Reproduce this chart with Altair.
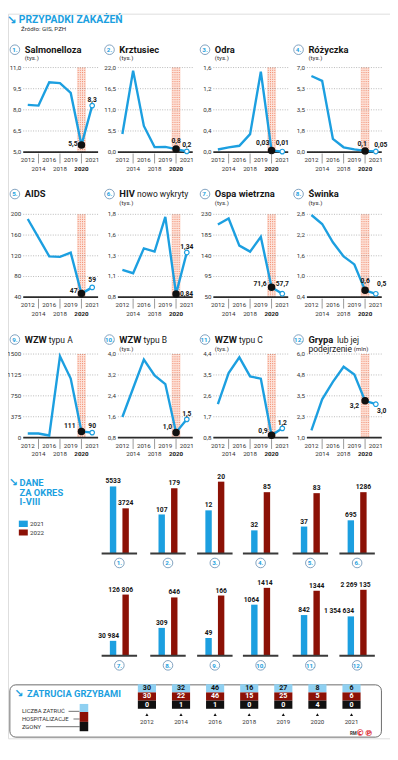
import altair as alt
import pandas as pd

# ---------------- data ----------------
years = ["2012", "2014", "2016", "2018", "2019", "2020", "2021"]

names = ["Salmonelloza", "Krztusiec", "Odra", "Różyczka", "AIDS", "HIV",
         "Ospa wietrzna", "Świnka", "WZW", "WZW", "WZW", "Grypa"]
name_extra = ["", "", "", "", "", "nowo wykryty", "", "", "typu A", "typu B",
              "typu C", "lub jej"]
unit_word = ["", "", "", "", "", "", "", "", "", "", "", "podejrzenie"]
units = ["(tys.)", "(tys.)", "(tys.)", "(tys.)", "", "(tys.)", "(tys.)",
         "(tys.)", "", "(tys.)", "(tys.)", "(mln)"]

salmonelloza = [8.35, 8.3, 9.95, 9.9, 9.2, 5.5, 8.3]
krztusiec = [4.7, 21.2, 6.8, 1.3, 1.35, 0.8, 0.2]
odra = [0.05, 0.09, 0.12, 0.34, 1.52, 0.03, 0.01]
rozyczka = [6.3, 5.9, 1.1, 0.4, 0.22, 0.1, 0.05]
aids = [191, 155, 119, 118, 126, 47, 59]
hiv = [1.13, 1.09, 1.39, 1.35, 1.77, 0.84, 1.34]
ospa = [208, 221, 162, 149, 181, 71.6, 57.7]
swinka = [2.78, 2.52, 1.99, 1.58, 1.35, 0.6, 0.5]
wzw_a = [74, 74, 38, 1460, 1060, 111, 90]
wzw_b = [1.59, 2.69, 3.79, 3.18, 2.85, 1.0, 1.5]
wzw_c = [2.24, 3.58, 4.26, 3.44, 3.34, 0.9, 1.2]
grypa = [1.44, 3.29, 4.34, 5.24, 4.78, 3.2, 3.0]
series = [salmonelloza, krztusiec, odra, rozyczka, aids, hiv, ospa, swinka,
          wzw_a, wzw_b, wzw_c, grypa]

value_labels = [("5,5", "8,3"), ("0,8", "0,2"), ("0,03", "0,01"), ("0,1", "0,05"),
                ("47", "59"), ("0,84", "1,34"), ("71,6", "57,7"), ("0,6", "0,5"),
                ("111", "90"), ("1,0", "1,5"), ("0,9", "1,2"), ("3,2", "3,0")]

y_ticks = [
    [5.0, 6.5, 8.0, 9.5, 11.0],
    [0.0, 5.5, 11.0, 16.5, 22.0],
    [0.0, 0.4, 0.8, 1.2, 1.6],
    [0.0, 1.75, 3.5, 5.25, 7.0],
    [40, 80, 120, 160, 200],
    [0.8, 1.05, 1.3, 1.55, 1.8],
    [50, 95, 140, 185, 230],
    [0.4, 1.0, 1.6, 2.2, 2.8],
    [0, 375, 750, 1125, 1500],
    [0.8, 1.6, 2.4, 3.2, 4.0],
    [0.8, 1.7, 2.6, 3.5, 4.4],
    [1.0, 2.25, 3.5, 4.75, 6.0],
]
y_tick_labels = [
    ["5,0", "6,5", "8,0", "9,5", "11,0"],
    ["0,0", "5,5", "11,0", "16,5", "22,0"],
    ["0,0", "0,4", "0,8", "1,2", "1,6"],
    ["0,0", "1,8", "3,5", "5,3", "7,0"],
    ["40", "80", "120", "160", "200"],
    ["0,8", "1,1", "1,3", "1,6", "1,8"],
    ["50", "95", "140", "185", "230"],
    ["0,4", "1,0", "1,6", "2,2", "2,8"],
    ["0", "375", "750", "1125", "1500"],
    ["0,8", "1,6", "2,4", "3,2", "4,0"],
    ["0,8", "1,7", "2,6", "3,5", "4,4"],
    ["1,0", "2,3", "3,5", "4,8", "6,0"],
]

bar_groups = ["1.", "2.", "3.", "4.", "5.", "6.", "7.", "8.", "9.", "10.", "11.", "12."]
bar_years = ["2021", "2022"]
cases_2021 = [5533, 107, 12, 32, 37, 695, 30984, 309, 49, 1064, 842, 1354634]
cases_2022 = [3724, 179, 20, 85, 83, 1286, 126806, 646, 166, 1414, 1344, 2269135]

mush_years = ["2012", "2014", "2016", "2018", "2019", "2020", "2021"]
mush_rows = ["LICZBA ZATRUĆ", "HOSPITALIZACJE", "ZGONY"]
poisonings = [30, 32, 46, 16, 27, 8, 6]
hospitalizations = [30, 22, 46, 15, 25, 5, 6]
deaths = [0, 1, 1, 0, 0, 4, 0]

# ---------------- layout / style ----------------
BLUE = "#1c9fe0"
RED = "#8c1106"
LIGHT_BLUE = "#8fd0f1"
INK = "#161616"
GREY = "#333333"
FONT = "Roboto"

W_ALL, H_ALL = 388, 736
LINE_X = [15.5, 111.6, 208.6, 303.6]
LW = 76
LINE_TOP = [54.7, 203.8, 345.7]
LINE_BOT = [140.6, 288.0, 430.6]
TITLE_Y = [36.6, 183.2, 331.0]
SUB_Y = [45.0, 192.0, 340.6]
X_MIN, X_MAX = -0.42, 6.55
BAND_HALF = 0.42
HATCH = [-0.3, -0.1, 0.1, 0.3]
EXTRA_DX = {5: 18, 8: 24.5, 9: 24.5, 10: 24.5, 11: 29}
VALUE_POS = [
    ((-4, -1, "right"), (0, -6, "center")),
    ((0, -8, "center"), (0, -6, "center")),
    ((-9, -8, "center"), (0, -9, "center")),
    ((-3, -7, "center"), (5, -7, "center")),
    ((-4, -3, "right"), (0, -7, "center")),
    ((4, 0, "left"), (0, -6, "center")),
    ((-5, -3, "right"), (0, -10, "center")),
    ((0, -9, "center"), (6, -10, "center")),
    ((-6, -5, "right"), (0, -7, "center")),
    ((-4, -5, "right"), (0, -5, "center")),
    ((-4, -4, "right"), (0, -5, "center")),
    ((-6, 5, "right"), (6, 7, "center")),
]

BAR_X = [95.1, 144.5, 192.1, 238.6, 289.1, 336.6]
BW = 36
BAR_BASE = [548.2, 652.2]
BH = 75.8
BAR_SCALE_MAX = [6165, 205, 20.8, 103.6, 102.8, 1567, 154545, 826, 205.5, 1553, 1542, 2565000]
BAR_LABEL_DX = {6: (-4.5, -5), 9: (-3, -2), 11: (-12, -8)}

BOX = (1.9, 681.7, 379.3, 734.8)
MX0, MX1 = 141.1, 348.9
CELL_HALF = 0.266
MY0, MROW = 681.1, 8.3

ONE = pd.DataFrame({"k": [0]})


def text_mark(s, x, y, size, weight="normal", color=INK, align="left", font=None):
    props = dict(text=s, fontSize=size, fontWeight=weight, color=color,
                 align=align, baseline="middle")
    if font:
        props["font"] = font
    return alt.Chart(ONE).mark_text(**props).encode(x=alt.value(x), y=alt.value(y))


def pl_int(n):
    return f"{n:,}".replace(",", " ") if n >= 10000 else str(n)


def line_panel(i):
    r, c = divmod(i, 4)
    x0, top, bot = LINE_X[c], LINE_TOP[r], LINE_BOT[r]
    lo, hi = y_ticks[i][0], y_ticks[i][-1]
    xs = alt.Scale(domain=[X_MIN, X_MAX], range=[x0, x0 + LW], nice=False, zero=False)
    ys = alt.Scale(domain=[lo, hi], range=[bot, top], nice=False, zero=False)

    def X(f):
        return alt.X(f, type="quantitative", scale=xs, axis=None)

    def Y(f):
        return alt.Y(f, type="quantitative", scale=ys, axis=None)

    labs = ["", "", "", "", "", value_labels[i][0], value_labels[i][1]]
    df = pd.DataFrame({"idx": list(range(7)), "year": years, "v": series[i], "lab": labs})
    tdf = pd.DataFrame({"t": y_ticks[i], "lab": y_tick_labels[i]})
    tdf["g0"] = X_MIN
    tdf["g1"] = X_MAX
    band_df = pd.DataFrame({"a": [5 - BAND_HALF], "b": [5 + BAND_HALF], "top": [hi], "bot": [lo]})
    hatch_df = pd.DataFrame({"h": [5 + o for o in HATCH]})
    hatch_df["top"] = hi
    hatch_df["bot"] = lo
    base_df = pd.DataFrame({"g0": [X_MIN], "g1": [X_MAX], "b": [lo]})

    layers = []
    layers.append(alt.Chart(band_df).mark_rect(color="#fde3da").encode(
        x=X("a"), x2="b", y=Y("top"), y2="bot"))
    layers.append(alt.Chart(hatch_df).mark_rule(color="#ef7a5a", strokeDash=[1, 1.3], strokeWidth=0.9).encode(
        x=X("h"), y=Y("top"), y2="bot"))
    layers.append(alt.Chart(tdf).mark_rule(color="#9a9a9a", strokeDash=[1, 1.5], strokeWidth=0.7).encode(
        x=X("g0"), x2="g1", y=Y("t")))
    layers.append(alt.Chart(tdf).mark_text(align="right", baseline="middle", fontSize=6.3, color=GREY, dx=-2).encode(
        x=X("g0"), y=Y("t"), text="lab:N"))
    layers.append(alt.Chart(base_df).mark_rule(color="#2b2b2b", strokeWidth=1.8).encode(
        x=X("g0"), x2="g1", y=Y("b")))
    layers.append(alt.Chart(df).mark_line(color=BLUE, strokeWidth=2.4).encode(x=X("idx"), y=Y("v")))
    layers.append(alt.Chart(df).transform_filter("datum.idx == 5").mark_point(
        shape="circle", filled=True, fill="#111111", stroke="#111111", size=32, opacity=1).encode(
        x=X("idx"), y=Y("v")))
    layers.append(alt.Chart(df).transform_filter("datum.idx == 6").mark_point(
        shape="circle", filled=True, fill="white", stroke=BLUE, strokeWidth=1.2, size=22, opacity=1).encode(
        x=X("idx"), y=Y("v")))
    for k, idx in enumerate([5, 6]):
        dx, dy, al = VALUE_POS[i][k]
        layers.append(alt.Chart(df).transform_filter(f"datum.idx == {idx}").mark_text(
            fontSize=6.8, fontWeight="bold", color=INK, dx=dx, dy=dy, align=al, baseline="middle").encode(
            x=X("idx"), y=Y("v"), text="lab:N"))
    # year labels
    layers.append(alt.Chart(df).transform_filter("datum.idx % 2 == 0").mark_text(
        fontSize=6.3, color=GREY, baseline="middle").encode(x=X("idx"), y=alt.value(bot + 8.1), text="year:N"))
    layers.append(alt.Chart(df).transform_filter("datum.idx == 1 || datum.idx == 3").mark_text(
        fontSize=6.3, color=GREY, baseline="middle").encode(x=X("idx"), y=alt.value(bot + 16.8), text="year:N"))
    layers.append(alt.Chart(df).transform_filter("datum.idx == 5").mark_text(
        fontSize=6.3, color=INK, fontWeight="bold", baseline="middle").encode(
        x=X("idx"), y=alt.value(bot + 16.8), text="year:N"))
    layers.append(alt.Chart(df).transform_filter("datum.idx % 2 == 1").mark_rule(
        color="#555555", strokeWidth=0.6).encode(x=X("idx"), y=alt.value(bot + 1.5), y2=alt.value(bot + 11.5)))
    # header
    ty, sy = TITLE_Y[r], SUB_Y[r]
    layers.append(alt.Chart(ONE).mark_point(shape="circle", size=95, filled=False, color="#7297b8",
                                            strokeWidth=0.9, opacity=1).encode(
        x=alt.value(x0 - 8.5), y=alt.value(ty)))
    layers.append(text_mark(f"{i + 1}.", x0 - 8.5, ty + 0.3, 6.3, "bold", BLUE, "center"))
    layers.append(text_mark(names[i], x0 + 1.5, ty, 9.5, "bold", INK))
    if name_extra[i]:
        layers.append(text_mark(name_extra[i], x0 + 1.5 + EXTRA_DX[i], ty + 0.3, 8.6, "normal", INK))
    if unit_word[i]:
        layers.append(text_mark(unit_word[i], x0 + 1.5, sy, 8.6, "normal", INK))
        layers.append(text_mark(units[i], x0 + 1.5 + 46, sy + 0.5, 6.3, "normal", GREY))
    elif units[i]:
        layers.append(text_mark(units[i], x0 + 1.5, sy, 6.3, "normal", GREY))
    return alt.layer(*layers)


def bar_panel(g):
    r, c = divmod(g, 6)
    x0, base = BAR_X[c], BAR_BASE[r]
    df = pd.DataFrame({"year": bar_years, "v": [cases_2021[g], cases_2022[g]],
                       "lab": [pl_int(cases_2021[g]), pl_int(cases_2022[g])]})
    xs = alt.Scale(type="band", domain=bar_years, range=[x0, x0 + BW], paddingInner=0.49, paddingOuter=0.655)
    ys = alt.Scale(domain=[0, BAR_SCALE_MAX[g]], range=[base, base - BH], nice=False, zero=True)
    X = alt.X("year:N", scale=xs, axis=None)
    Y = alt.Y("v:Q", scale=ys, axis=None)
    layers = [
        alt.Chart(df).mark_bar().encode(
            x=X, y=Y, color=alt.Color("year:N", scale=alt.Scale(domain=bar_years, range=[BLUE, RED]), legend=None)),
    ]
    dxs = BAR_LABEL_DX.get(g, (0, 0))
    for k, yr in enumerate(bar_years):
        layers.append(alt.Chart(df).transform_filter(f"datum.year == '{yr}'").mark_text(
            fontSize=6.8, fontWeight="bold", color=INK, baseline="bottom", dy=-2, dx=dxs[k]).encode(
            x=X, y=Y, text="lab:N"))
    layers.append(alt.Chart(ONE).mark_rule(color="#3a3a3a", strokeWidth=2).encode(
        x=alt.value(x0), x2=alt.value(x0 + BW), y=alt.value(base)))
    layers.append(alt.Chart(ONE).mark_point(shape="circle", size=95, filled=False, color="#7297b8",
                                            strokeWidth=0.9, opacity=1).encode(
        x=alt.value(x0 + BW / 2), y=alt.value(base + 9.7)))
    layers.append(text_mark(bar_groups[g], x0 + BW / 2, base + 10, 6.3, "bold", BLUE, "center"))
    return alt.layer(*layers)


def mush_panel():
    recs = []
    for i, yr in enumerate(mush_years):
        for name, vals in zip(mush_rows, [poisonings, hospitalizations, deaths]):
            recs.append({"idx": i, "year": yr, "measure": name, "n": vals[i]})
    df = pd.DataFrame(recs)
    ydf = pd.DataFrame({"idx": list(range(len(mush_years))), "year": mush_years})
    xs = alt.Scale(domain=[0, len(mush_years) - 1], range=[MX0, MX1], nice=False, zero=False)
    ys = alt.Scale(type="band", domain=mush_rows, range=[MY0, MY0 + 3 * MROW], paddingInner=0, paddingOuter=0)
    bx0, by0, bx1, by1 = BOX
    layers = [
        alt.Chart(ONE).mark_rect(fill="white", stroke="#5a5a5a", strokeWidth=0.9, cornerRadius=6).encode(
            x=alt.value(bx0), x2=alt.value(bx1), y=alt.value(by0), y2=alt.value(by1)),
        alt.Chart(df).transform_calculate(a=f"datum.idx - {CELL_HALF}", b=f"datum.idx + {CELL_HALF}").mark_rect().encode(
            x=alt.X("a:Q", scale=xs, axis=None), x2="b:Q",
            y=alt.Y("measure:N", scale=ys, axis=None),
            color=alt.Color("measure:N", scale=alt.Scale(domain=mush_rows, range=[LIGHT_BLUE, RED, "#111111"]),
                            legend=None)),
        alt.Chart(df).mark_text(fontSize=7.2, fontWeight="bold", baseline="middle").encode(
            x=alt.X("idx:Q", scale=xs, axis=None),
            y=alt.Y("measure:N", scale=ys, axis=None),
            text="n:Q",
            color=alt.condition("datum.measure == 'LICZBA ZATRUĆ'", alt.value("#111111"), alt.value("white"))),
        alt.Chart(ydf).mark_point(shape="triangle-up", filled=True, color="#111111", size=10, opacity=1).encode(
            x=alt.X("idx:Q", scale=xs, axis=None), y=alt.value(712.0)),
        alt.Chart(ydf).mark_text(fontSize=6.2, color=GREY, baseline="middle").encode(
            x=alt.X("idx:Q", scale=xs, axis=None), y=alt.value(719.0), text="year:N"),
    ]
    # title and legend
    layers.append(text_mark("\u2198", 11.0, 691.1, 11, "bold", BLUE, "center", font="DejaVu Sans"))
    layers.append(text_mark("ZATRUCIA GRZYBAMI", 19.4, 691.1, 9.5, "bold", BLUE))
    leg_y = [708.6, 716.4, 724.2]
    line_x0 = [61.5, 66.5, 38.5]
    for name, yy, lx in zip(mush_rows, leg_y, line_x0):
        layers.append(text_mark(name, 14.1, yy, 6.0, "normal", GREY))
        layers.append(alt.Chart(ONE).mark_rule(color=GREY, strokeWidth=0.7).encode(
            x=alt.value(lx), x2=alt.value(72.8), y=alt.value(yy)))
    sq = [(701.1, 709.3, LIGHT_BLUE), (709.3, 719.3, RED), (719.3, 728.8, "#111111")]
    for y0, y1, col in sq:
        layers.append(alt.Chart(ONE).mark_rect(color=col).encode(
            x=alt.value(72.8), x2=alt.value(81.5), y=alt.value(y0), y2=alt.value(y1)))
    layers.append(text_mark("RM", 350.8, 731.2, 4.5, "bold", GREY, "center"))
    layers.append(text_mark("©℗", 362.0, 731.0, 8.5, "bold", "#d8232a", "center", font="DejaVu Sans"))
    return alt.layer(*layers)


# header texts
decor = [
    text_mark("\u2198", 3.9, 6.0, 12, "bold", BLUE, "center", font="DejaVu Sans"),
    text_mark("PRZYPADKI ZAKAŻEŃ", 11.0, 6.5, 10.5, "bold", BLUE),
    text_mark("Źródło: GIS, PZH", 13.2, 15.6, 6.3, "normal", GREY),
    text_mark("\u2198", 5.3, 477.0, 11, "bold", BLUE, "center", font="DejaVu Sans"),
    text_mark("DANE", 11.6, 477.0, 9.5, "bold", BLUE),
    text_mark("ZA OKRES", 11.6, 486.7, 9.5, "bold", BLUE),
    text_mark("I-VIII", 11.6, 496.4, 9.5, "bold", BLUE),
    alt.Chart(ONE).mark_rect(color=BLUE).encode(
        x=alt.value(11.0), x2=alt.value(20.1), y=alt.value(514.9), y2=alt.value(521.4)),
    alt.Chart(ONE).mark_rect(color=RED).encode(
        x=alt.value(11.0), x2=alt.value(20.1), y=alt.value(523.9), y2=alt.value(530.0)),
    text_mark(bar_years[0], 22.3, 518.1, 6.3, "normal", GREY),
    text_mark(bar_years[1], 22.3, 527.1, 6.3, "normal", GREY),
]

all_layers = [line_panel(i) for i in range(12)] + [bar_panel(g) for g in range(12)] + [mush_panel()] + decor

chart = alt.layer(*all_layers).resolve_scale(
    x="independent", y="independent", color="independent"
).properties(
    width=W_ALL, height=H_ALL, padding=0,
    autosize=alt.AutoSizeParams(type="none")
).configure_view(stroke=None).configure(font=FONT)

chart.save("out.html", embed_options={"renderer": "svg", "actions": False})
